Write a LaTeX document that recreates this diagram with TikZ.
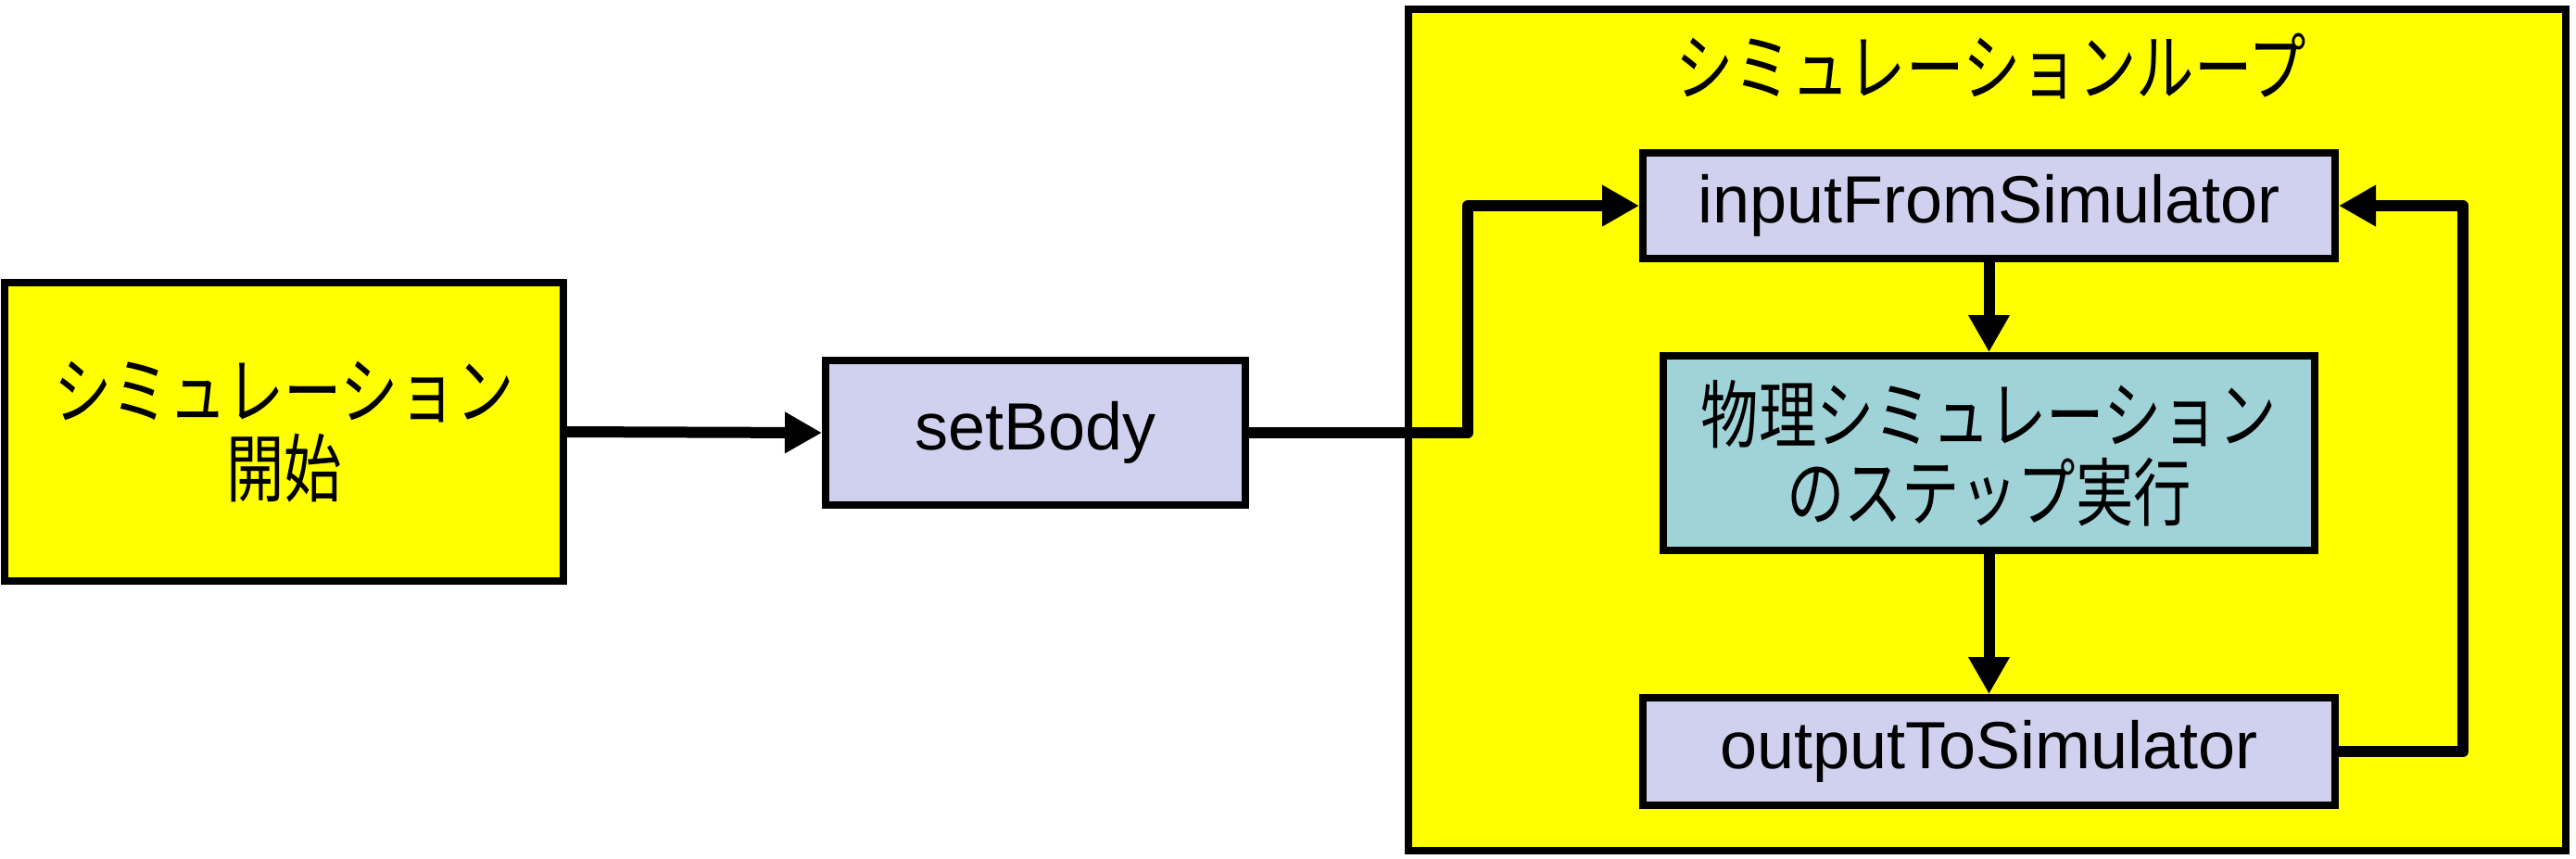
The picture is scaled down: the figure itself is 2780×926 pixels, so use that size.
\documentclass[tikz,border=0pt]{standalone}
\usepackage{fontspec}
\setmainfont{Liberation Sans}
\newfontfamily\jp[FakeStretch=0.78]{Noto Sans CJK JP}
\usetikzlibrary{arrows.meta}
\definecolor{loopyellow}{RGB}{255,255,0}
\definecolor{lav}{RGB}{208,209,238}
\definecolor{teal2}{RGB}{160,211,216}
\tikzset{
  boxbase/.style={draw=black, line width=2pt, rectangle, inner sep=0pt, align=center},
  latinbox/.style={boxbase, fill=lav, font=\fontsize{18}{21.6}\selectfont},
  jpbox/.style={boxbase, font=\jp\fontsize{20}{21}\selectfont},
  conn/.style={draw=black, line width=3pt, line join=round, -{Triangle[length=10pt,width=10.5pt]}},
}
\begin{document}
\begin{tikzpicture}[x=0.25pt, y=-0.25pt]
\fill[white] (0,0) rectangle (2780,926);
\useasboundingbox (0,0) rectangle (2780,926);
% loop frame
\node[boxbase, fill=loopyellow, minimum width=312.25pt, minimum height=227pt] (loop) at (2144.5,464) {};
\node[font=\jp\fontsize{20}{21}\selectfont, inner sep=0pt] (title) at (2149,71) {シミュレーションループ};
% boxes
\node[jpbox, fill=loopyellow, minimum width=150.75pt, minimum height=80.5pt] (start) at (306.5,466) {シミュレーション\\開始};
\node[latinbox, minimum width=113.25pt, minimum height=39pt] (setbody) at (1117.5,467) {setBody};
\node[latinbox, minimum width=186.75pt, minimum height=28.5pt] (inp) at (2146.5,222) {inputFromSimulator};
\node[jpbox, fill=teal2, minimum width=175.75pt, minimum height=52.5pt] (phys) at (2146.5,489) {物理シミュレーション\\のステップ実行};
\node[latinbox, minimum width=186.75pt, minimum height=29pt] (outp) at (2146.5,811) {outputToSimulator};
% corner coordinates
\coordinate (cl) at (1584,467);
\coordinate (cr) at (2658,811);
% connectors
\draw[conn] (start.east) -- (setbody.west);
\draw[conn] (setbody.east) -- (cl) |- (inp.west);
\draw[conn] (outp.east) -- (cr) |- (inp.east);
\draw[conn] (inp.south) -- (phys.north);
\draw[conn] (phys.south) -- (outp.north);
\end{tikzpicture}
\end{document}
